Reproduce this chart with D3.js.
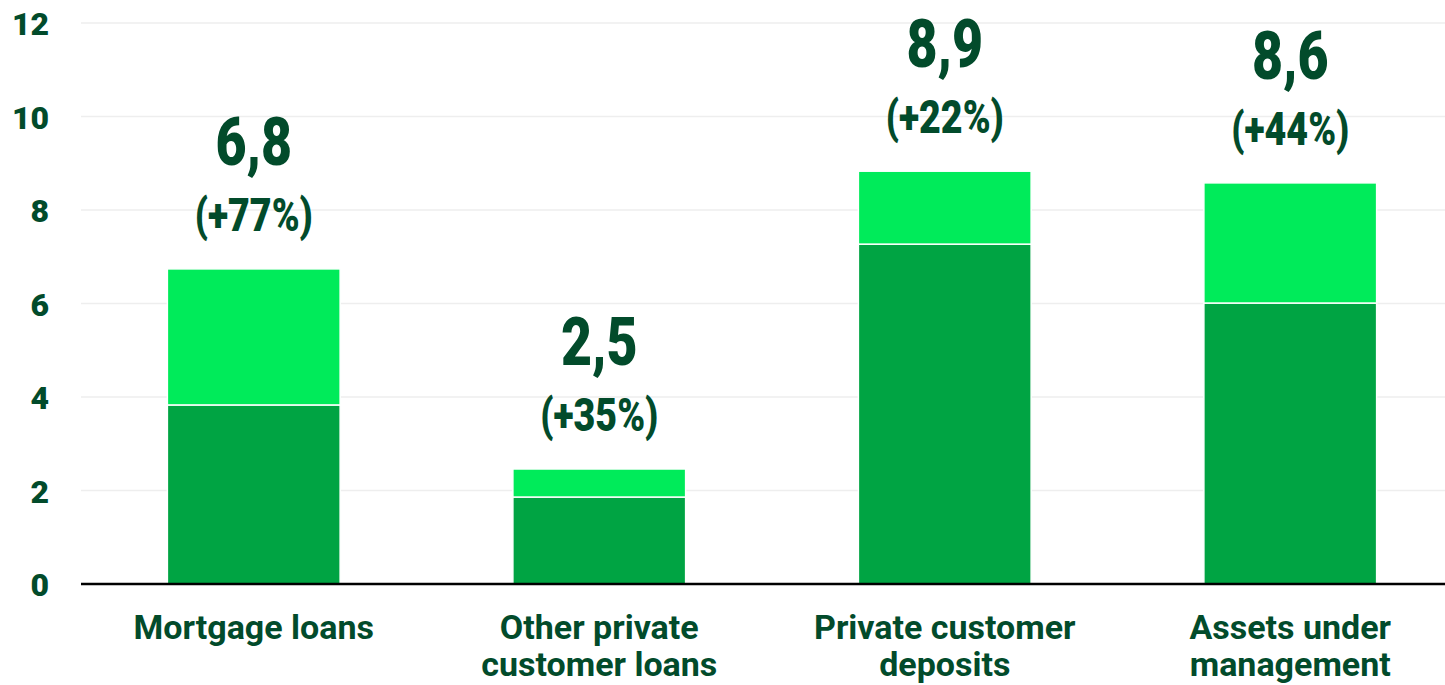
<!DOCTYPE html>
<html>
<head>
<meta charset="utf-8">
<script src="https://cdn.jsdelivr.net/npm/d3@7"></script>
<style>
  body { margin: 0; background: #fff; }
  svg { display: block; }
</style>
</head>
<body>
<svg id="vis"></svg>
<script>
// chart values
const categories = [['Mortgage loans'], ['Other private', 'customer loans'], ['Private customer', 'deposits'], ['Assets under', 'management']]
const baseValues = [3.83, 1.86, 7.27, 6.01]
const growthValues = [2.91, 0.60, 1.56, 2.57]
const totalLabels = ['6,8', '2,5', '8,9', '8,6']
const changeLabels = ['(+77%)', '(+35%)', '(+22%)', '(+44%)']
const yTicks = [0, 2, 4, 6, 8, 10, 12]

const W = 1445, H = 685
const textColor = '#024b2b'
const colors = ['#00a443', '#00eb5a']

const svg = d3.select('#vis').attr('width', W).attr('height', H)

const data = categories.map((c, i) => ({key: i, base: baseValues[i], growth: growthValues[i]}))

const x = d3.scaleBand()
    .domain(data.map(d => d.key))
    .range([81, 1463])
    .paddingInner(0.5)
    .paddingOuter(0.25)

const y = d3.scaleLinear()
    .domain([0, 12])
    .range([584, 23])

//gridlines
svg.append('g')
    .selectAll('line')
    .data(yTicks.filter(t => t > 0))
    .join('line')
    .attr('x1', 81).attr('x2', W)
    .attr('y1', d => y(d)).attr('y2', d => y(d))
    .attr('stroke', '#eeeeee')
    .attr('stroke-width', 1.5)

//left axis labels
const yAxis = d3.axisLeft(y).tickValues(yTicks).tickSize(0).tickPadding(0)
svg.append('g')
    .attr('transform', 'translate(49,0)')
    .call(yAxis)
    .call(g => g.select('.domain').remove())
    .selectAll('text')
        .attr('fill', textColor)
        .attr('dy', '0.36em')
        .style('font-family', 'Roboto, sans-serif')
        .style('font-weight', 900)
        .style('font-size', '32px')

//stacked bars
const stacked = d3.stack().keys(['base', 'growth'])(data)

svg.append('g')
    .selectAll('g')
    .data(stacked)
    .join('g')
    .attr('fill', (d, i) => colors[i])
    .selectAll('rect')
    .data(d => d)
    .join('rect')
    .attr('x', d => x(d.data.key))
    .attr('width', x.bandwidth())
    .attr('y', d => y(d[1]))
    .attr('height', d => y(d[0]) - y(d[1]))
    .attr('stroke', '#fff')
    .attr('stroke-width', 1.5)

//bottom axis line
svg.append('line')
    .attr('x1', 81).attr('x2', W)
    .attr('y1', y(0)).attr('y2', y(0))
    .attr('stroke', '#000')
    .attr('stroke-width', 2.5)

//category labels
const xLabels = svg.append('g')
    .selectAll('text')
    .data(data)
    .join('text')
    .attr('text-anchor', 'middle')
    .attr('fill', textColor)
    .style('font-family', 'Roboto, sans-serif')
    .style('font-weight', 700)
    .style('font-size', '34px')
    .attr('transform', d => 'translate(' + (x(d.key) + x.bandwidth() / 2) + ',639)')

xLabels.selectAll('tspan')
    .data(d => categories[d.key])
    .join('tspan')
    .attr('x', 0)
    .attr('y', (d, i) => i * 37)
    .text(d => d)

//value labels above the bars
const labels = svg.append('g')
    .selectAll('g')
    .data(data)
    .join('g')
    .attr('transform', d => 'translate(' + (x(d.key) + x.bandwidth() / 2) + ',' + y(d.base + d.growth) + ')')

labels.append('text')
    .attr('text-anchor', 'middle')
    .attr('fill', textColor)
    .attr('transform', 'translate(0,-38) scale(0.8,1)')
    .style('font-family', 'Roboto, sans-serif')
    .style('font-weight', 900)
    .style('font-size', '47px')
    .text(d => changeLabels[d.key])

labels.append('text')
    .attr('text-anchor', 'middle')
    .attr('fill', textColor)
    .attr('transform', 'translate(0,-104) scale(0.8,1)')
    .style('font-family', 'Roboto, sans-serif')
    .style('font-weight', 900)
    .style('font-size', '67px')
    .text(d => totalLabels[d.key])
</script>
</body>
</html>
